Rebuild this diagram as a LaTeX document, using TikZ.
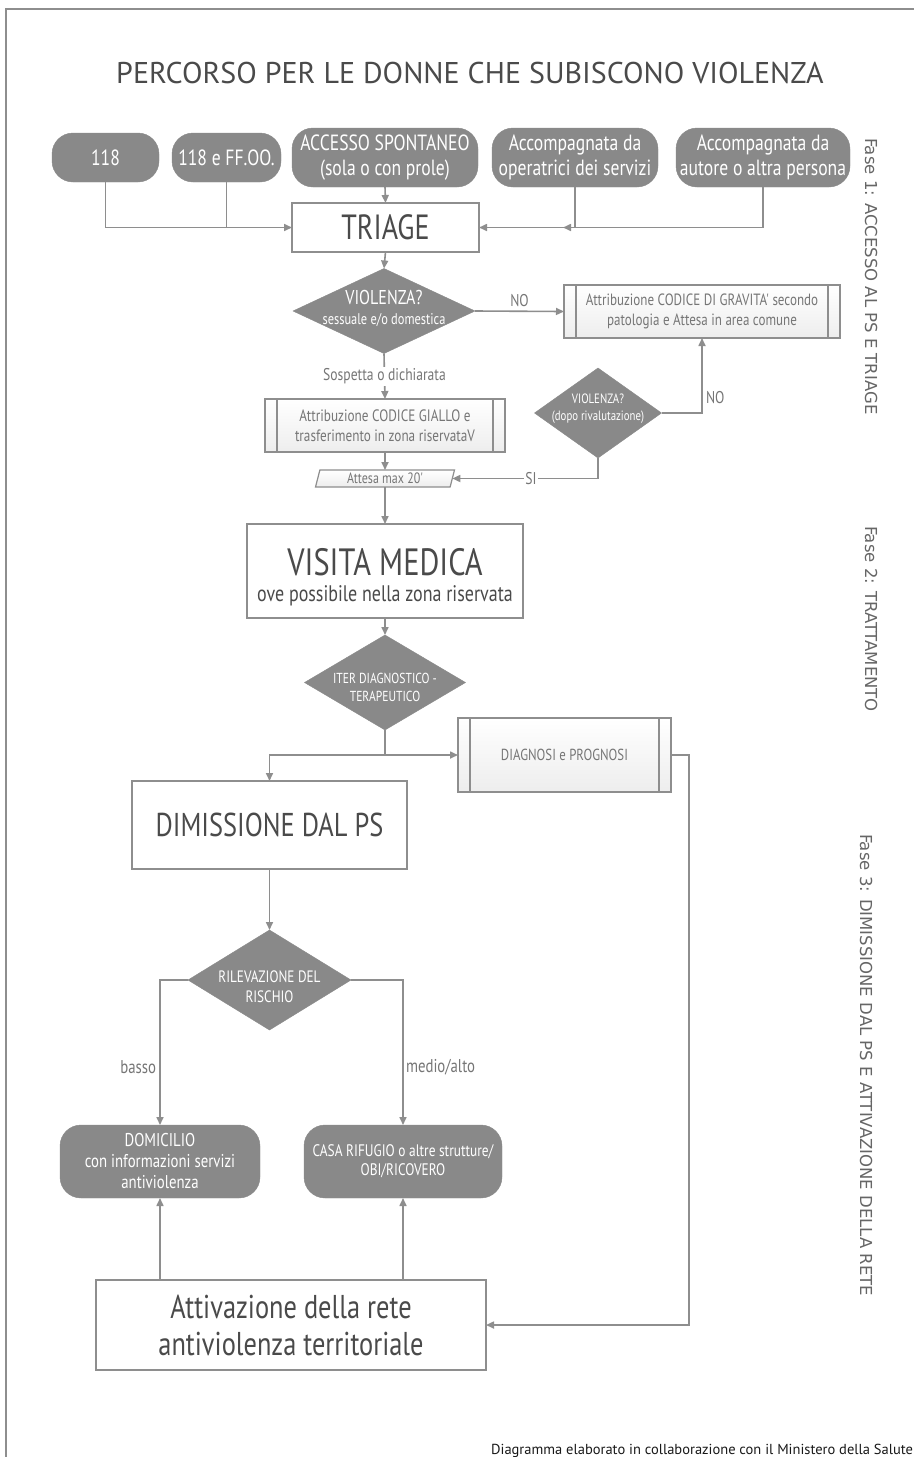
\documentclass[tikz,border=0pt]{standalone}
\usepackage{fontspec}
\setmainfont{PT Sans}
\newfontfamily\nar[FakeStretch=0.8]{PT Sans}
\newfontfamily\fasefont{DejaVu Sans}
\usetikzlibrary{shapes.geometric,arrows.meta}
\definecolor{linecol}{HTML}{8E8E8E}
\definecolor{darkfill}{HTML}{898989}
\definecolor{txtdark}{HTML}{4A4A4A}
\definecolor{txtlight}{HTML}{767676}
\newcommand{\fs}[2]{\fontsize{#1}{#2}\selectfont}
\tikzset{
  every node/.style={inner sep=0pt, outer sep=0pt},
  ln/.style={draw=linecol, line width=1.6pt},
  conn/.style={ln, -{Triangle[length=8pt,width=7pt]}},
  term/.style={draw=darkfill, fill=darkfill, rounded corners=21pt, text=white, align=center},
  pbox/.style={draw=linecol, line width=1.4pt, fill=white, align=center, text=txtdark},
  proc/.style={draw=linecol, line width=1.4pt, top color=white, bottom color=black!7, align=center, text=txtlight,
    path picture={
      \draw[linecol, line width=1.2pt] ([xshift=12pt]path picture bounding box.north west) -- ([xshift=12pt]path picture bounding box.south west);
      \draw[linecol, line width=1.2pt] ([xshift=-12pt]path picture bounding box.north east) -- ([xshift=-12pt]path picture bounding box.south east);}},
  dia/.style={diamond, draw=darkfill, fill=darkfill, inner sep=0pt},
  dtxt/.style={text=white, align=center},
  lbl/.style={text=txtlight},
  fase/.style={text=black!60, rotate=-90, anchor=west, font=\fasefont\fs{16.5}{18}},
}
\begin{document}
\begin{tikzpicture}[x=1pt,y=-1pt]
\useasboundingbox (0,0) rectangle (914,1457);
\fill[white] (0,0) rectangle (914,1457);
\draw[linecol, line width=1.4pt] (6,1457) -- (6,9) -- (914,9);

% title
\node[text=txtdark, font=\fs{30}{34}] (title) at (470,73) {PERCORSO PER LE DONNE CHE SUBISCONO VIOLENZA};

% phase labels
\node[fase] (f1) at (871,138) {Fase 1: ACCESSO AL PS E TRIAGE};
\node[fase] (f2) at (871,526) {Fase 2: TRATTAMENTO};
\node[fase] (f3) at (866,834) {Fase 3: DIMISSIONE DAL PS E ATTIVAZIONE DELLA RETE};

% access terminators
\begin{scope}[font=\nar\fs{22}{25}]
\node[term, minimum width=107, minimum height=49] (t118) at (105.5,157.5) {118};
\node[term, minimum width=109, minimum height=49] (tff) at (226.5,157.5) {118 e FF.OO.};
\node[term, minimum width=186, minimum height=59] (tacc) at (385,157.5) {ACCESSO SPONTANEO\\(sola o con prole)};
\node[term, minimum width=166, minimum height=59] (tope) at (575,157.5) {Accompagnata da\\operatrici dei servizi};
\node[term, minimum width=174, minimum height=59] (taut) at (763,157.5) {Accompagnata da\\autore o altra persona};
\end{scope}

\node[pbox, minimum width=187, minimum height=49, font=\nar\fs{35}{38}] (triage) at (385.5,227.5) {TRIAGE};

% decision 1
\node[dia, minimum width=182, minimum height=85] (v1) at (384,311) {};
\node[dtxt, font=\nar\fs{15.5}{20}] (v1t) at (384,308) {{\fs{20}{20}VIOLENZA?}\\sessuale e/o domestica};

\node[proc, minimum width=276, minimum height=53, font=\nar\fs{16.3}{19.5}] (grav) at (702,311.5) {Attribuzione CODICE DI GRAVITA' secondo\\patologia e Attesa in area comune};
\node[proc, minimum width=240, minimum height=53, font=\nar\fs{16.5}{19.5}] (giallo) at (385,425.5) {Attribuzione CODICE GIALLO e\\trasferimento in zona riservataV};

% decision 2
\node[dia, minimum width=127, minimum height=90] (v2) at (598,413) {};
\node[dtxt, font=\nar\fs{13.5}{17}] (v2t) at (598,409) {VIOLENZA?\\(dopo rivalutazione)};

\node[trapezium, trapezium left angle=68, trapezium right angle=112, trapezium stretches body=true, draw=linecol, line width=1.2pt, top color=white, bottom color=black!7, minimum width=139, minimum height=17, text=txtlight, font=\nar\fs{15}{15}] (attesa) at (385,478.5) {Attesa max 20'};

\node[pbox, minimum width=276, minimum height=94] (visita) at (385,571) {};
\node[text=txtdark, font=\nar\fs{38}{40}] (visT) at (385,562) {VISITA MEDICA};
\node[text=txtdark, font=\nar\fs{22.5}{24}] (visS) at (385,596) {ove possibile nella zona riservata};

\node[dia, minimum width=161, minimum height=95] (iter) at (385,682.5) {};
\node[dtxt, font=\nar\fs{14.5}{18}] (itert) at (385,687) {ITER DIAGNOSTICO -\\TERAPEUTICO};

\node[proc, minimum width=213, minimum height=74, font=\nar\fs{16}{18}] (diag) at (564.5,755) {DIAGNOSI e PROGNOSI};

\node[pbox, minimum width=275, minimum height=88, font=\nar\fs{33}{36}] (dimis) at (269.5,825) {DIMISSIONE DAL PS};

\node[dia, minimum width=163, minimum height=100] (ril) at (269.5,980) {};
\node[dtxt, font=\nar\fs{16.5}{20}] (rilt) at (269.5,987) {RILEVAZIONE DEL\\RISCHIO};

\node[term, minimum width=200, minimum height=73, font=\nar\fs{18.5}{21}] (dom) at (160,1161.5) {DOMICILIO\\con informazioni servizi\\antiviolenza};
\node[term, minimum width=198, minimum height=73, font=\nar\fs{16.7}{19}] (casa) at (403,1161.5) {CASA RIFUGIO o altre strutture/\\OBI/RICOVERO};

\node[pbox, minimum width=390, minimum height=90, font=\nar\fs{33}{37}] (attiv) at (291,1325) {Attivazione della rete\\antiviolenza territoriale};

\node[anchor=east, text=black!90, font=\fs{14.5}{16}] (credit) at (913,1451) {Diagramma elaborato in collaborazione con il Ministero della Salute};

% connectors: access
\draw[conn] (t118.south) |- (triage.west);
\draw[ln] (tff.south) -- (tff.south |- triage.west);
\draw[conn] (tacc.south) -- (triage.north);
\draw[conn] (taut.south) |- ([xshift=-12pt]tope.south |- triage.east);
\draw[conn] (tope.south) |- (triage.east);

\draw[conn] (triage.south) -- (v1.north);
\draw[conn] (v1.east) -- node[lbl, above=5pt, font=\nar\fs{17}{18}] (nolab1) {NO} (grav.west);
\draw[conn] (v1.south) -- node[lbl, fill=white, inner sep=2pt, font=\nar\fs{17}{18}] (sosp) {Sospetta o dichiarata} (giallo.north);
\draw[conn] (v2.east) -| node[lbl, pos=0.6, right=4pt, font=\nar\fs{17}{18}] (nolab2) {NO} (grav.south);
\draw[conn] (v2.south) |- node[lbl, pos=0.73, fill=white, inner sep=1.5pt, font=\nar\fs{17}{18}] (silab) {SI} (attesa.east);
\draw[conn] (giallo.south) -- (attesa.north);
\draw[conn] (attesa.south) -- (visita.north);
\draw[conn] (visita.south) -- (iter.north);
\draw[conn] (iter.south) |- (diag.west);
\draw[conn] (iter.south |- diag.west) -| (dimis.north);
\draw[conn] (diag.east) -- ++(18,0) |- (attiv.east);
\draw[conn] (dimis.south) -- (ril.north);
\draw[conn] (ril.west) -| node[lbl, pos=0.8, left=4pt, font=\nar\fs{18.5}{20}] (basso) {basso} (dom.north);
\draw[conn] (ril.east) -| node[lbl, pos=0.8, right=3pt, font=\nar\fs{18.5}{20}] (medio) {medio/alto} (casa.north);
\draw[conn] (attiv.north -| dom.south) -- (dom.south);
\draw[conn] (attiv.north -| casa.south) -- (casa.south);
\end{tikzpicture}
\end{document}
